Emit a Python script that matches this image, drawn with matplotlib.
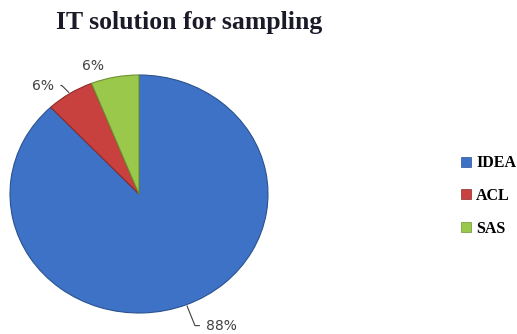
import numpy as np
import matplotlib
matplotlib.use("Agg")
import matplotlib.pyplot as plt
from matplotlib.patches import Patch

labels = ["IDEA", "ACL", "SAS"]
shares = [88, 6, 6]
pct_text = ["88%", "6%", "6%"]
colors = ["#3D72C6", "#C8413F", "#9AC84B"]
edges = ["#2B528F", "#8E2B2A", "#6E9233"]

W, H = 517, 334
fig = plt.figure(figsize=(W / 100, H / 100), dpi=100)

# pie is drawn squashed (rx 129 px, ry 119 px) like the 3d excel chart
cx, cy, rx, ry = 139, 194, 129, 119
ax = fig.add_axes([(cx - rx) / W, (H - cy - ry) / H, 2 * rx / W, 2 * ry / H])
wedges, _ = ax.pie(shares, colors=colors, startangle=90, counterclock=False,
                   radius=1.0, wedgeprops=dict(linewidth=0.8))
for w, ec in zip(wedges, edges):
    w.set_edgecolor(ec)
ax.set_xlim(-1, 1)
ax.set_ylim(-1, 1)
ax.set_aspect("auto")

# mid angle of every slice
cum = np.cumsum(shares)
total = cum[-1]
mid = np.deg2rad(90 - 360 * (cum - np.array(shares) / 2) / total)

label_font = dict(family="DejaVu Sans", size=10, color="#404040")

# IDEA: leader down to the right
ax.annotate(pct_text[0], xy=(np.cos(mid[0]), np.sin(mid[0])), xytext=(20, -21),
            textcoords="offset pixels", ha="left", va="center", **label_font,
            arrowprops=dict(arrowstyle="-", color="#404040", lw=0.8,
                            relpos=(0, 0.5), shrinkA=3, shrinkB=1,
                            connectionstyle="angle,angleA=0,angleB=-68,rad=0"))
# ACL: short leader to the left
ax.annotate(pct_text[1], xy=(np.cos(mid[1]), np.sin(mid[1])), xytext=(-16, 8),
            textcoords="offset pixels", ha="right", va="center", **label_font,
            arrowprops=dict(arrowstyle="-", color="#404040", lw=0.8,
                            relpos=(1, 0.5), shrinkA=3, shrinkB=1,
                            connectionstyle="angle,angleA=0,angleB=135,rad=0"))
# SAS: no leader
ax.annotate(pct_text[2], xy=(np.cos(mid[2]), np.sin(mid[2])), xytext=(-22, 11),
            textcoords="offset pixels", ha="center", va="center", **label_font)

fig.text(189 / W, 1 - 22 / H, "IT solution for sampling", ha="center", va="center",
         family="Liberation Serif", weight="bold", size=18.5, color="#1A1A28")

handles = [Patch(facecolor=c, edgecolor=e, lw=0.5) for c, e in zip(colors, edges)]
fig.legend(handles, labels, loc="center left", bbox_to_anchor=(453 / W, 1 - 196 / H),
           frameon=False, handlelength=0.6, handleheight=0.6, handletextpad=0.35,
           labelspacing=1.05, borderpad=0,
           prop=dict(family="Liberation Serif", weight="bold", size=11.5))

fig.savefig("out.png", dpi=100)
